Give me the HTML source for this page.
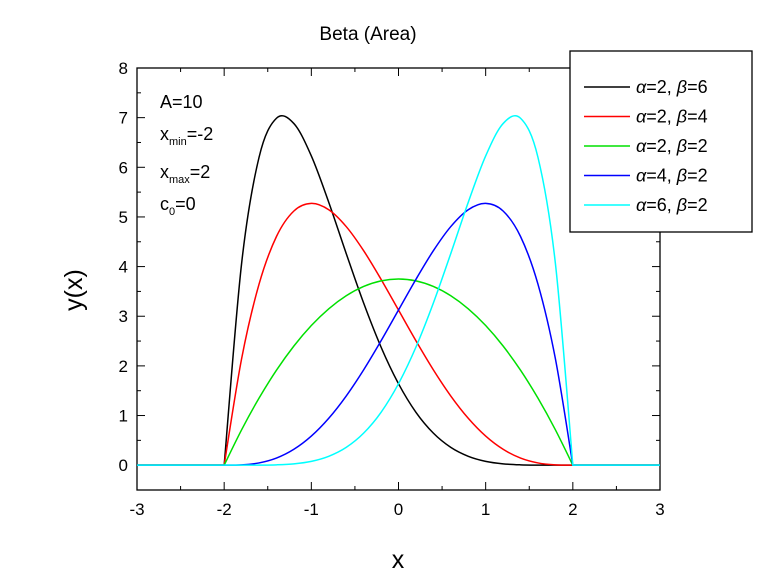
<!DOCTYPE html>
<html><head><meta charset="utf-8"><style>
body{margin:0;background:#fff;}
svg{display:block;font-family:"Liberation Sans",Arial,sans-serif;}
</style></head><body>
<svg id="chart" width="768" height="588" viewBox="0 0 768 588">
<text x="368" y="40" font-size="19" text-anchor="middle">Beta (Area)</text>
<text transform="translate(82,290) rotate(-90)" font-size="25" text-anchor="middle">y(x)</text>
<text x="398" y="568" font-size="25" text-anchor="middle">x</text>
<g id="axes"></g>
<g id="series"></g>
<g font-size="18">
<text x="160" y="108">A=10</text>
<text x="160" y="140">x<tspan font-size="11" dy="5">min</tspan><tspan dy="-5">=-2</tspan></text>
<text x="160" y="178">x<tspan font-size="11" dy="5">max</tspan><tspan dy="-5">=2</tspan></text>
<text x="160" y="210">c<tspan font-size="11" dy="5">0</tspan><tspan dy="-5">=0</tspan></text>
</g>
<g id="legend"></g>
</svg>
<script>
const xTicks=[-3,-2,-1,0,1,2,3];
const yTicks=[0,1,2,3,4,5,6,7,8];
const xs=[-2,-1.8,-1.6,-1.4,-1.2,-1,-0.8,-0.6,-0.4,-0.2,0,0.2,0.4,0.6,0.8,1,1.2,1.4,1.6,1.8,2];
const s26=[0,4.062,6.200,6.988,6.881,6.229,5.294,4.264,3.266,2.378,1.641,1.065,0.645,0.358,0.179,0.077,0.027,0.007,0.001,0,0];
const s24=[0,2.143,3.645,4.606,5.12,5.273,5.145,4.806,4.32,3.743,3.125,2.506,1.92,1.393,0.945,0.586,0.32,0.143,0.045,0.006,0];
const s22=[0,0.7125,1.35,1.9125,2.4,2.8125,3.15,3.4125,3.6,3.7125,3.75,3.7125,3.6,3.4125,3.15,2.8125,2.4,1.9125,1.35,0.7125,0];
const s42=[0,0.006,0.045,0.143,0.32,0.586,0.945,1.393,1.92,2.506,3.125,3.743,4.32,4.806,5.145,5.273,5.12,4.606,3.645,2.143,0];
const s62=[0,0,0.001,0.007,0.027,0.077,0.179,0.358,0.645,1.065,1.641,2.378,3.266,4.264,5.294,6.229,6.881,6.988,6.200,4.062,0];
const seriesNames=["α=2, β=6","α=2, β=4","α=2, β=2","α=4, β=2","α=6, β=2"];
const seriesData=[s26,s24,s22,s42,s62];
const colors=["#000000","#ff0000","#00e000","#0000ff","#00ffff"];
const L=137,R=660,T=68,B=490;
const xMin=-3,xMax=3,yMin=-0.5,yMax=8;
const X=v=>L+(v-xMin)/(xMax-xMin)*(R-L);
const Y=v=>B-(v-yMin)/(yMax-yMin)*(B-T);
const NS="http://www.w3.org/2000/svg";
function mk(tag,attrs,parent){const e=document.createElementNS(NS,tag);for(const k in attrs)e.setAttribute(k,attrs[k]);parent.appendChild(e);return e;}
const axes=document.getElementById('axes');
const frame=mk('rect',{x:L,y:T,width:R-L,height:B-T,fill:'none',stroke:'#000','stroke-width':1.3},axes);


for(let v=-3;v<=3.001;v+=0.5){
  const major=Math.abs(v-Math.round(v))<1e-6, len=major?8:4, px=X(v);
  mk('line',{x1:px,x2:px,y1:B,y2:B-len,stroke:'#000'},axes);
  mk('line',{x1:px,x2:px,y1:T,y2:T+len,stroke:'#000'},axes);
}
for(let v=-0.5;v<=8.001;v+=0.5){
  const major=Math.abs(v-Math.round(v))<1e-6, len=major?8:4, py=Y(v);
  mk('line',{x1:L,x2:L+len,y1:py,y2:py,stroke:'#000'},axes);
  mk('line',{x1:R,x2:R-len,y1:py,y2:py,stroke:'#000'},axes);
}
xTicks.forEach(v=>{const t=mk('text',{x:X(v),y:B+25,'font-size':17,'text-anchor':'middle'},axes);t.textContent=v;

});
yTicks.forEach(v=>{const t=mk('text',{x:L-9,y:Y(v)+6,'font-size':17,'text-anchor':'end'},axes);t.textContent=v;

});
function crPath(px,py){
  let d=`M${X(-3)},${Y(0)} L${px[0]},${py[0]}`;
  for(let i=0;i<px.length-1;i++){
    const x0=px[Math.max(i-1,0)],y0=py[Math.max(i-1,0)],x1=px[i],y1=py[i],x2=px[i+1],y2=py[i+1],x3=px[Math.min(i+2,px.length-1)],y3=py[Math.min(i+2,px.length-1)];
    d+=` C${x1+(x2-x0)/6},${y1+(y2-y0)/6} ${x2-(x3-x1)/6},${y2-(y3-y1)/6} ${x2},${y2}`;
  }
  return d+` L${X(3)},${Y(0)}`;
}
const sg=document.getElementById('series');
seriesData.forEach((s,i)=>{
  const p=mk('path',{d:crPath(xs.map(X),s.map(Y)),fill:'none',stroke:colors[i],'stroke-width':1.5},sg);
  
  
});
const lg=document.getElementById('legend');
mk('rect',{x:570,y:51,width:182,height:181,fill:'#fff',stroke:'#000','stroke-width':1.3},lg);
seriesNames.forEach((n,i)=>{
  const y=87+i*29.5;
  mk('line',{x1:584,x2:630,y1:y,y2:y,stroke:colors[i],'stroke-width':1.5},lg);
  const parts=n.split(/([αβ])/);
  const t=mk('text',{x:636,y:y+6,'font-size':18},lg);
  
  
  parts.forEach(p=>{if(!p)return;const ts=mk('tspan',{},t);ts.textContent=p;if(p==='α'||p==='β')ts.setAttribute('font-style','italic');});
});
</script>
</body></html>
